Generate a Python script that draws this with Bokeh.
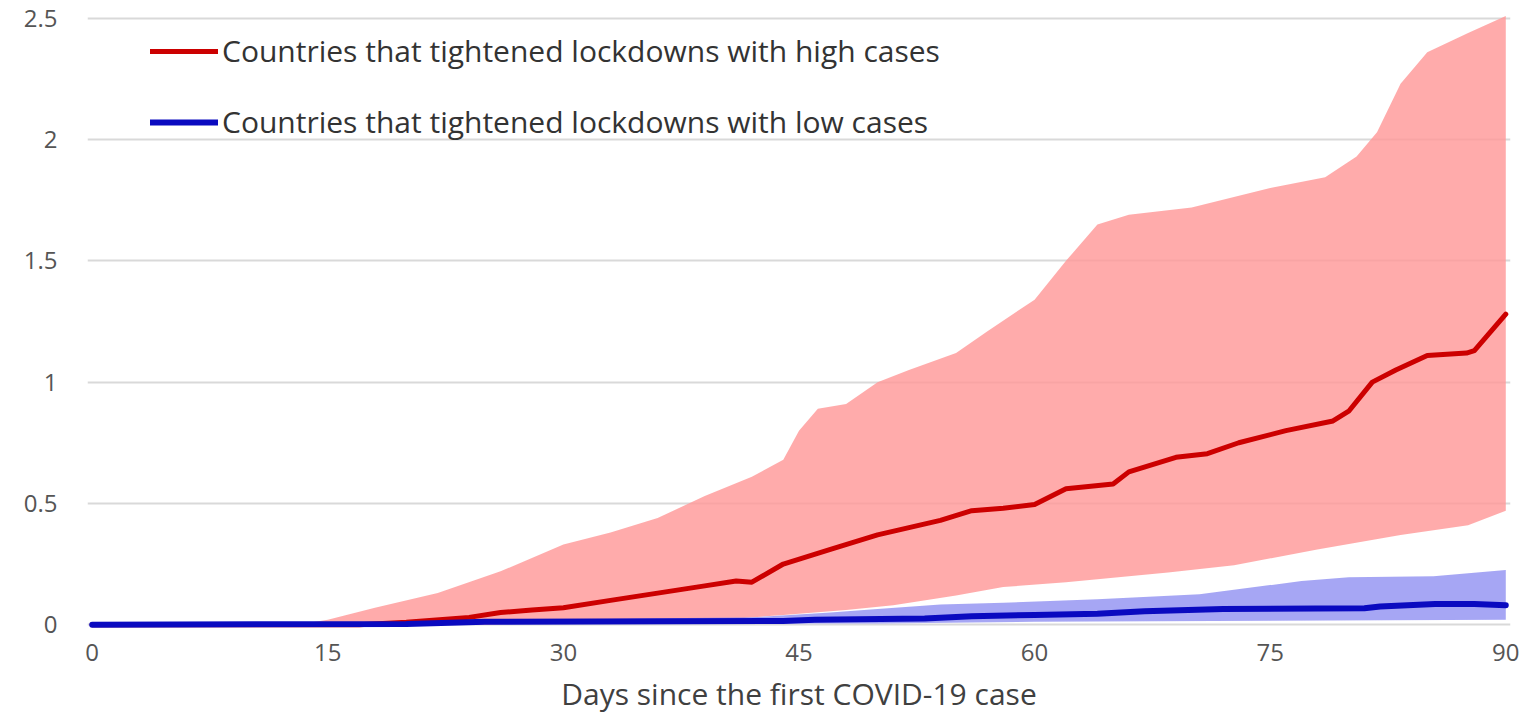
from bokeh.plotting import figure
from bokeh.models import Range1d, Legend, LegendItem, FixedTicker
from bokeh.embed import file_html
from bokeh.resources import INLINE

# ---- data ----
red_mean_days = [0, 17, 20, 24, 26, 28, 30, 33, 36, 39, 41, 42, 44, 47, 50, 52, 54, 56, 58, 60,
                 62, 65, 66, 69, 71, 73, 76, 79, 80, 81.5, 83, 85, 87.5, 88, 90]
red_mean = [0, 0, 0.01, 0.03, 0.05, 0.06, 0.07, 0.10, 0.13, 0.16, 0.18, 0.175, 0.25, 0.31, 0.37,
            0.40, 0.43, 0.47, 0.48, 0.495, 0.56, 0.58, 0.63, 0.69, 0.705, 0.75, 0.80, 0.84, 0.88,
            1.00, 1.05, 1.11, 1.12, 1.13, 1.28]

red_upper_days = [0, 13, 15, 18, 22, 26, 30, 33, 36, 39, 42, 44, 45, 46.2, 48, 50, 52, 55, 57, 60,
                  62, 64, 66, 70, 75, 78.5, 80.5, 81.8, 83.3, 85, 87.6, 90]
red_upper = [0, 0, 0.02, 0.07, 0.13, 0.22, 0.33, 0.38, 0.44, 0.53, 0.61, 0.68, 0.80, 0.89, 0.91,
             1.00, 1.05, 1.12, 1.21, 1.34, 1.50, 1.65, 1.69, 1.72, 1.80, 1.845, 1.93, 2.03, 2.23,
             2.36, 2.44, 2.51]

red_lower_days = [0, 25, 30, 35, 40, 44, 48, 51, 55, 58, 62, 68.5, 72.7, 78, 83.3, 87.6, 90]
red_lower = [0, 0, 0.01, 0.015, 0.02, 0.04, 0.06, 0.08, 0.12, 0.155, 0.175, 0.215, 0.245, 0.31,
             0.37, 0.41, 0.47]

blue_mean_days = [0, 20, 25, 44, 46, 53, 56, 60, 64, 67, 72, 81, 82, 85.5, 88, 90]
blue_mean = [0, 0.003, 0.012, 0.015, 0.02, 0.025, 0.035, 0.04, 0.045, 0.055, 0.065, 0.068, 0.075,
             0.085, 0.085, 0.08]

blue_upper_days = [0, 15, 25, 35, 42, 47, 50, 54, 58, 64, 70.5, 77, 80, 85.4, 90]
blue_upper = [0, 0.002, 0.015, 0.025, 0.03, 0.05, 0.065, 0.083, 0.09, 0.105, 0.125, 0.18, 0.195,
              0.2, 0.225]
blue_lower_days = [0, 50, 60, 90]
blue_lower = [0, 0.005, 0.012, 0.02]

x_ticks = [0, 15, 30, 45, 60, 75, 90]
y_ticks = [0, 0.5, 1, 1.5, 2, 2.5]
y_tick_labels = {0: "0", 0.5: "0.5", 1: "1", 1.5: "1.5", 2: "2", 2.5: "2.5"}
label_high = "Countries that tightened lockdowns with high cases"
label_low = "Countries that tightened lockdowns with low cases"
x_title = "Days since the first COVID-19 case"

FONT = "Open Sans"
TICK_COLOR = "#555555"

p = figure(width=1521, height=717, output_backend="svg", toolbar_location=None,
           x_range=Range1d(-0.3, 90.3), y_range=Range1d(-0.02, 2.52),
           min_border_left=87, min_border_right=11, min_border_top=13, min_border_bottom=88)
p.outline_line_color = None
p.background_fill_color = "white"

# bands
p.patch(red_upper_days + red_lower_days[::-1], red_upper + red_lower[::-1],
        fill_color="#FF9999", fill_alpha=0.82, line_color=None)
p.patch(blue_upper_days + blue_lower_days[::-1], blue_upper + blue_lower[::-1],
        fill_color="#8080F0", fill_alpha=0.7, line_color=None)

# mean lines
r_red = p.line(red_mean_days, red_mean, line_color="#CC0000", line_width=5,
               line_cap="round", line_join="round")
r_blue = p.line(blue_mean_days, blue_mean, line_color="#0A0AC0", line_width=6,
                line_cap="round", line_join="round")

# axes
p.xaxis.ticker = FixedTicker(ticks=x_ticks)
p.yaxis.ticker = FixedTicker(ticks=y_ticks)
p.yaxis.major_label_overrides = y_tick_labels
for ax in (p.xaxis, p.yaxis):
    ax.axis_line_color = None
    ax.major_tick_line_color = None
    ax.minor_tick_line_color = None
    ax.major_tick_out = 0
    ax.major_tick_in = 0
    ax.major_label_text_font = FONT
    ax.major_label_text_font_size = "24px"
    ax.major_label_text_color = TICK_COLOR
p.yaxis.major_label_standoff = 30
p.xaxis.major_label_standoff = 14
p.xaxis.axis_label = x_title
p.xaxis.axis_label_text_font = FONT
p.xaxis.axis_label_text_font_style = "normal"
p.xaxis.axis_label_text_font_size = "30px"
p.xaxis.axis_label_text_color = "#404040"
p.xaxis.axis_label_standoff = 9

p.xgrid.grid_line_color = None
p.ygrid.grid_line_color = "#D9D9D9"
p.ygrid.grid_line_width = 2

legend = Legend(items=[LegendItem(label=label_high, renderers=[r_red]),
                       LegendItem(label=label_low, renderers=[r_blue])],
                location=(63, 487), orientation="vertical",
                glyph_width=68, glyph_height=40, label_height=40, spacing=30,
                label_standoff=4, padding=0, margin=0,
                label_text_font=FONT, label_text_font_size="30px",
                label_text_color="#333333",
                background_fill_alpha=0, border_line_color=None)
p.add_layout(legend)

open("out.html", "w").write(file_html(p, INLINE))
